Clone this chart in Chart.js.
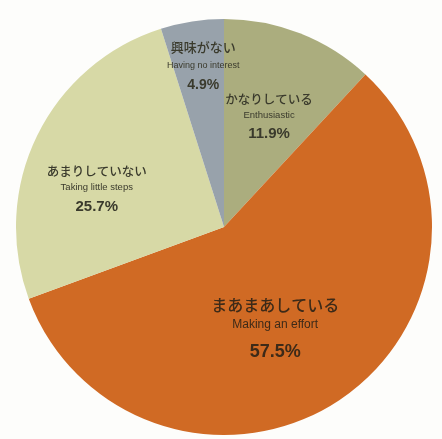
<!DOCTYPE html>
<html lang="ja">
<head>
<meta charset="utf-8">
<title>取り組み状況</title>
<script src="https://cdn.jsdelivr.net/npm/chart.js@4.4.1/dist/chart.umd.min.js"></script>
<style>
  html, body { margin: 0; padding: 0; background: #fdfdfb; }
  canvas { display: block; }
</style>
</head>
<body>
<canvas id="pieChart" width="442" height="439"></canvas>
<script>
// 回答の内訳（上から時計回り）
const labelsJa = ['かなりしている', 'まあまあしている', 'あまりしていない', '興味がない'];
const labelsEn = ['Enthusiastic', 'Making an effort', 'Taking little steps', 'Having no interest'];
const shares = [11.9, 57.5, 25.7, 4.9];

const sliceColors = ['#abad7e', '#d06a24', '#d7d9a6', '#98a2ab'];

// ラベルの配置（半径に対する割合・中心角からのずれ）、行間、文字サイズ
const labelStyle = [
  { r: 0.58, shift: 0.5, up: 16, down: 19, ja: 12.5, en: 9.5, pct: 15 },
  { r: 0.53, shift: 6,   up: 20, down: 27, ja: 16,   en: 12,  pct: 18 },
  { r: 0.64, shift: -9,  up: 17, down: 19, ja: 12.5, en: 9.5, pct: 15 },
  { r: 0.785, shift: 1.5, up: 18, down: 20, ja: 13,  en: 9,   pct: 14 }
];

const sliceLabels = {
  id: 'sliceLabels',
  afterDatasetsDraw(chart) {
    const ctx = chart.ctx;
    const meta = chart.getDatasetMeta(0);
    meta.data.forEach((arc, i) => {
      const s = labelStyle[i];
      const mid = (arc.startAngle + arc.endAngle) / 2 + s.shift * Math.PI / 180;
      const rr = arc.outerRadius * s.r;
      const x = arc.x + Math.cos(mid) * rr;
      const y = arc.y + Math.sin(mid) * rr;

      ctx.save();
      ctx.textAlign = 'center';
      ctx.textBaseline = 'middle';
      ctx.fillStyle = i === 1 ? '#3d2a18' : '#3a3a2c';

      ctx.font = '500 ' + s.ja + 'px "Noto Sans CJK JP"';
      ctx.fillText(labelsJa[i], x, y - s.up);

      ctx.font = s.en + 'px "Liberation Sans", Arial, sans-serif';
      ctx.fillText(labelsEn[i], x, y);

      ctx.font = 'bold ' + s.pct + 'px "Liberation Sans", Arial, sans-serif';
      ctx.fillText(shares[i].toFixed(1) + '%', x, y + s.down);
      ctx.restore();
    });
  }
};

new Chart(document.getElementById('pieChart'), {
  type: 'pie',
  data: {
    labels: labelsJa,
    datasets: [{
      data: shares,
      backgroundColor: sliceColors,
      borderWidth: 0
    }]
  },
  options: {
    responsive: false,
    animation: false,
    devicePixelRatio: 1,
    layout: { padding: { left: 16, right: 10, top: 19, bottom: 4 } },
    plugins: {
      legend: { display: false },
      tooltip: { enabled: false }
    }
  },
  plugins: [sliceLabels]
});
</script>
</body>
</html>
